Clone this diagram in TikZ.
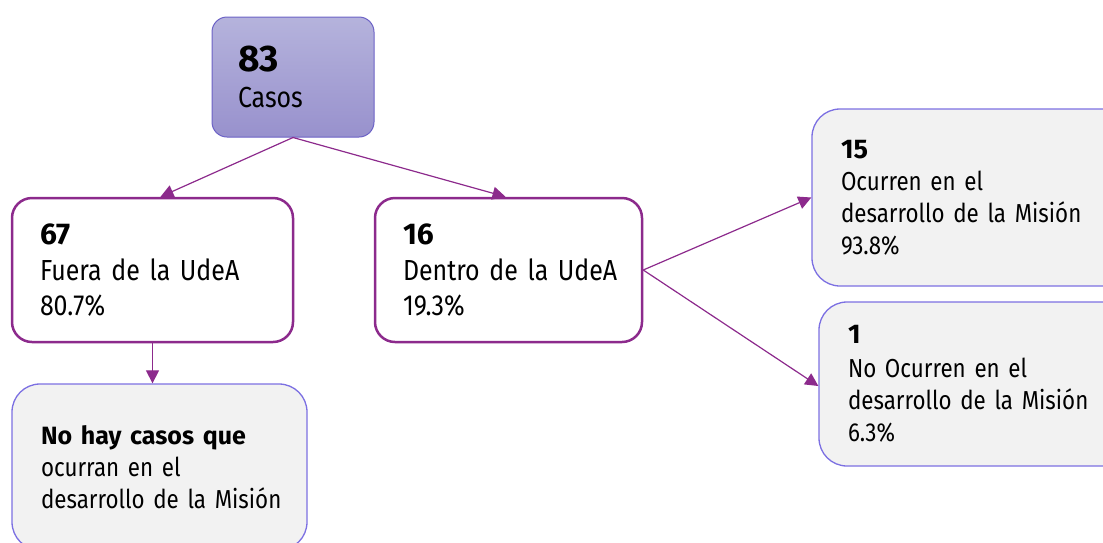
\documentclass[tikz,border=0pt]{standalone}
\usepackage{fontspec}
\setmainfont{Fira Sans}[BoldFont=* SemiBold, FakeStretch=0.86]
\newfontfamily\numfont{Fira Sans}[UprightFont=* Bold]
\usetikzlibrary{arrows.meta}
\definecolor{purp}{HTML}{8C2A8C}
\definecolor{topA}{HTML}{B5B3DC}
\definecolor{topB}{HTML}{9891CD}
\definecolor{topedge}{HTML}{6C62C6}
\definecolor{leafedge}{HTML}{7C70E2}
\definecolor{leaffill}{HTML}{F2F2F2}
\tikzset{
  topbox/.style={rectangle, rounded corners=15pt, draw=topedge, line width=1pt,
    top color=topA, bottom color=topB, inner xsep=26pt, inner ysep=0pt, align=left,
    font=\fontsize{29}{36}\selectfont},
  midbox/.style={rectangle, rounded corners=20pt, draw=purp, line width=2.5pt,
    fill=white, inner xsep=28pt, inner ysep=0pt, align=left,
    font=\fontsize{29}{35}\selectfont},
  leafbox/.style={rectangle, rounded corners=28pt, draw=leafedge, line width=1.3pt,
    fill=leaffill, inner xsep=29pt, inner ysep=0pt, align=left,
    font=\fontsize{26}{32}\selectfont},
  conn/.style={draw=purp, line width=1.2pt, -{Triangle[length=13pt,width=13pt]}},
}
\newcommand{\bnum}[2]{\mbox{\fontsize{#1}{#1}\numfont #2}}
\hyphenpenalty=10000
\hbadness=10000 \hfuzz=200pt
\begin{document}
\begin{tikzpicture}[x=1pt,y=-1pt]
\path[use as bounding box] (0,0) rectangle (1103,542);
\clip (0,0) rectangle (1103,542);
\node[topbox, minimum height=120pt, text width=110pt] (top) at (293,77)
  {\bnum{37}{83}\\\mbox{Casos}};
\node[midbox, minimum height=144pt, text width=225pt] (b67) at (152.5,270)
  {\bnum{30}{67}\\[1pt]\mbox{Fuera de la UdeA}\\\mbox{80.7\%}};
\node[midbox, minimum height=144pt, text width=211pt] (b16) at (508.5,270)
  {\bnum{30}{16}\\[1pt]\mbox{Dentro de la UdeA}\\\mbox{19.3\%}};
\node[leafbox, minimum height=177pt, text width=262pt] (b15) at (972,197.5)
  {\bnum{27}{15}\\\mbox{Ocurren en el}\\\mbox{desarrollo de la Misión}\\\mbox{93.8\%}};
\node[leafbox, minimum height=164pt, text width=255pt] (b1) at (975.5,384)
  {\bnum{27}{1}\\[2pt]\mbox{No Ocurren en el}\\\mbox{desarrollo de la Misión}\\\mbox{6.3\%}};
\node[leafbox, minimum height=166pt, text width=237pt] (bno) at (159.5,467)
  {\bnum{25}{No hay casos que}\\\mbox{ocurran en el}\\\mbox{desarrollo de la Misión}};
\draw[conn] (top.south) -- ([xshift=8pt]b67.north);
\draw[conn] (top.south) -- ([xshift=-3pt]b16.north);
\draw[conn] (b67.south) -- (b67.south |- bno.north);
\draw[conn] (b16.east) -- (b15.west);
\draw[conn] (b16.east) -- ([yshift=-2pt]b1.west);
\end{tikzpicture}
\end{document}
